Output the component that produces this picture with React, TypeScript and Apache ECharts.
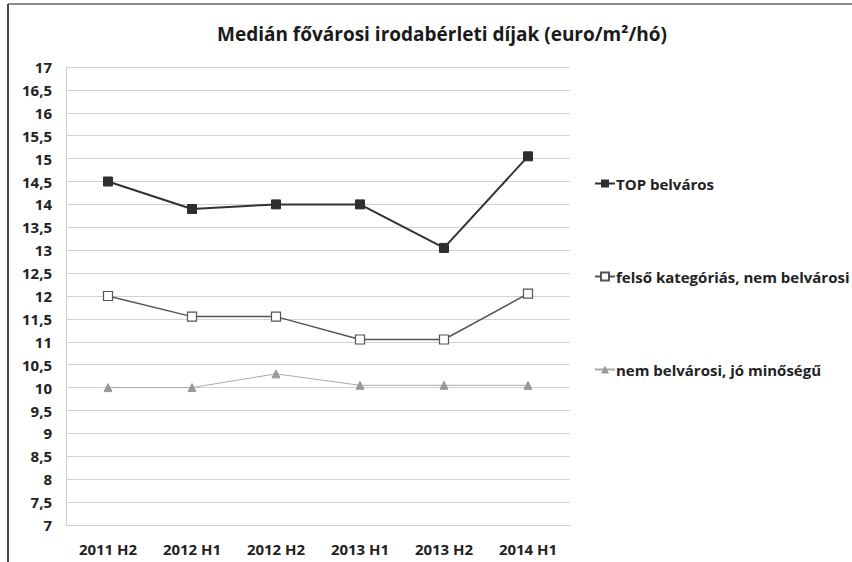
import React, { useEffect, useRef } from "react";
import * as echarts from "echarts";

const categories = ["2011 H2", "2012 H1", "2012 H2", "2013 H1", "2013 H2", "2014 H1"];
const topBelvaros = [14.5, 13.9, 14.0, 14.0, 13.05, 15.05];
const felsoKategorias = [12.0, 11.55, 11.55, 11.05, 11.05, 12.05];
const nemBelvarosi = [10.0, 10.0, 10.3, 10.05, 10.05, 10.05];
const seriesNames = ["TOP belváros", "felső kategóriás, nem belvárosi", "nem belvárosi, jó minőségű"];
const title = "Medián fővárosi irodabérleti díjak (euro/m²/hó)";

export default function App() {
  const ref = useRef<HTMLDivElement>(null);
  useEffect(() => {
    document.body.style.margin = "0";
    const chart = echarts.init(ref.current!, null, { renderer: "svg" });
    const font = "'Open Sans', sans-serif";
    chart.setOption({
      animation: false,
      backgroundColor: "#ffffff",
      textStyle: { fontFamily: font },
      title: {
        text: title,
        left: 437,
        textAlign: "center",
        top: 19,
        textStyle: { fontSize: 19, fontWeight: "bold", color: "#1a1a1a", fontFamily: font },
      },
      grid: { left: 66, right: 282, top: 67, bottom: 37, containLabel: false },
      legend: {
        orient: "vertical",
        left: 589,
        top: 171,
        itemGap: 78,
        itemWidth: 20,
        itemHeight: 10,
        textStyle: { fontSize: 15, fontWeight: "bold", color: "#222", fontFamily: font, padding: [0, 0, 0, -4] },
        data: seriesNames,
      },
      xAxis: {
        type: "category",
        data: categories,
        boundaryGap: true,
        axisLine: { lineStyle: { color: "#cfcfcf" } },
        axisTick: { show: false },
        axisLabel: { fontSize: 15, fontWeight: "bold", color: "#222", margin: 16, fontFamily: font },
      },
      yAxis: {
        type: "value",
        min: 7,
        max: 17,
        interval: 0.5,
        axisLine: { show: true, lineStyle: { color: "#cfcfcf" } },
        axisTick: { show: false },
        splitLine: { lineStyle: { color: "#d3d3d3", width: 1 } },
        axisLabel: {
          fontSize: 15,
          fontWeight: "bold",
          color: "#222",
          margin: 14,
          fontFamily: font,
          formatter: (v: number) => String(v).replace(".", ","),
        },
      },
      series: [
        {
          name: seriesNames[0],
          type: "line",
          data: topBelvaros,
          symbol: "rect",
          symbolSize: 9,
          lineStyle: { color: "#333333", width: 2 },
          itemStyle: { color: "#2e2e2e", borderColor: "#2e2e2e" },
        },
        {
          name: seriesNames[1],
          type: "line",
          data: felsoKategorias,
          symbol: "rect",
          symbolSize: 9,
          lineStyle: { color: "#555555", width: 1.5 },
          itemStyle: { color: "#ffffff", borderColor: "#555555", borderWidth: 1.2 },
        },
        {
          name: seriesNames[2],
          type: "line",
          data: nemBelvarosi,
          symbol: "triangle",
          symbolSize: 8,
          lineStyle: { color: "#aaaaaa", width: 1 },
          itemStyle: { color: "#999999", borderColor: "#999999" },
        },
      ],
      graphic: [
        { type: "line", shape: { x1: 8, y1: 4, x2: 852, y2: 4 }, style: { stroke: "#666", lineWidth: 1.5 } },
        { type: "line", shape: { x1: 8, y1: 4, x2: 8, y2: 562 }, style: { stroke: "#444", lineWidth: 2 } },
      ],
    });
    return () => chart.dispose();
  }, []);
  return <div ref={ref} style={{ width: 852, height: 562 }} />;
}
